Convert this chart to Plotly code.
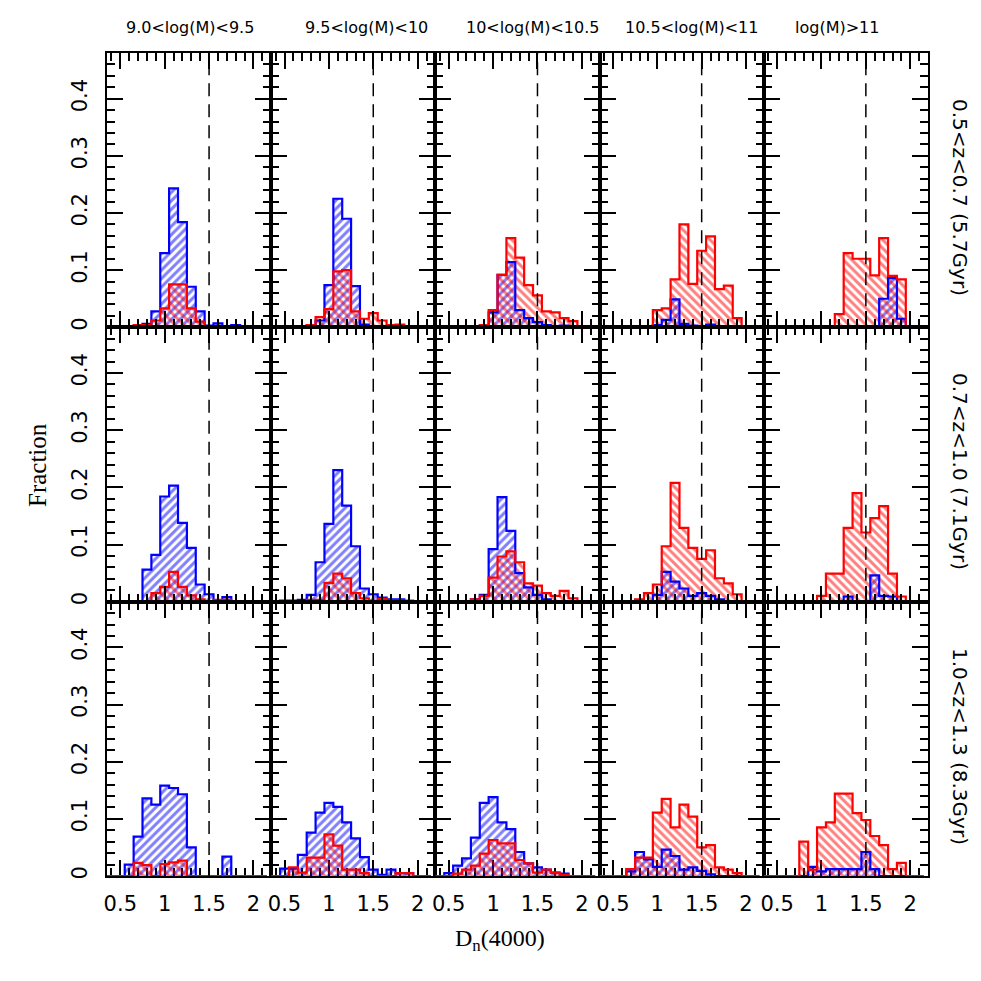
import plotly.graph_objects as go
from plotly.subplots import make_subplots

# histogram bins in Dn(4000)
BIN_CENTERS = [0.4, 0.5, 0.6, 0.7, 0.8, 0.9, 1.0, 1.1, 1.2, 1.3, 1.4, 1.5, 1.6, 1.7, 1.8, 1.9, 2.0, 2.1]
BIN_WIDTH = 0.1
DN_CUT = 1.5

MASS_LABELS = ["9.0<log(M)<9.5", "9.5<log(M)<10", "10<log(M)<10.5", "10.5<log(M)<11", "log(M)>11"]
Z_LABELS = ["0.5<z<0.7 (5.7Gyr)", "0.7<z<1.0 (7.1Gyr)", "1.0<z<1.3 (8.3Gyr)"]

X_TICKS = [0.5, 1, 1.5, 2]
X_TICK_TEXT = ["0.5", "1", "1.5", "2"]
Y_TICKS = [0, 0.1, 0.2, 0.3, 0.4]
Y_TICK_TEXT = ["0", "0.1", "0.2", "0.3", "0.4"]

# fractions per bin, one list per mass bin (columns), one block per redshift bin (rows)
BLUE_Z1 = [
    [0, 0, 0, 0, 0.006, 0.028, 0.130, 0.243, 0.184, 0.071, 0.028, 0.003, 0.007, 0, 0.004, 0, 0, 0],
    [0, 0, 0, 0, 0.003, 0.012, 0.074, 0.225, 0.190, 0.072, 0.005, 0.002, 0, 0, 0, 0, 0, 0],
    [0, 0, 0, 0, 0, 0.003, 0.026, 0.092, 0.114, 0.030, 0.016, 0.009, 0.004, 0.002, 0.003, 0, 0, 0],
    [0, 0, 0, 0, 0, 0, 0.004, 0.013, 0.049, 0.006, 0.003, 0.002, 0.005, 0, 0, 0, 0, 0],
    [0, 0, 0, 0, 0, 0, 0, 0, 0, 0, 0, 0, 0, 0.050, 0.086, 0.015, 0, 0],
]
RED_Z1 = [
    [0, 0, 0, 0.004, 0.004, 0.012, 0.033, 0.075, 0.075, 0.033, 0.010, 0, 0, 0.002, 0, 0, 0, 0],
    [0, 0, 0, 0, 0.004, 0.018, 0.032, 0.098, 0.100, 0.028, 0.015, 0.025, 0.012, 0.004, 0.005, 0, 0, 0],
    [0, 0, 0, 0, 0, 0.004, 0.030, 0.092, 0.156, 0.122, 0.074, 0.056, 0.028, 0.026, 0.016, 0.011, 0, 0],
    [0, 0, 0, 0, 0, 0, 0.030, 0.033, 0.084, 0.180, 0.076, 0.134, 0.159, 0.067, 0.073, 0.016, 0, 0],
    [0, 0, 0, 0, 0, 0, 0, 0, 0.023, 0.130, 0.120, 0.120, 0.091, 0.156, 0.090, 0.084, 0, 0],
]
BLUE_Z2 = [
    [0, 0, 0, 0, 0.056, 0.082, 0.184, 0.203, 0.138, 0.094, 0.030, 0.013, 0, 0.008, 0, 0, 0, 0],
    [0, 0.002, 0.002, 0.003, 0.012, 0.069, 0.136, 0.230, 0.168, 0.097, 0.023, 0.013, 0.007, 0.004, 0.004, 0, 0, 0],
    [0, 0, 0, 0, 0.004, 0.012, 0.092, 0.183, 0.124, 0.050, 0.025, 0.012, 0.004, 0, 0, 0, 0, 0],
    [0, 0, 0, 0, 0, 0, 0.012, 0.052, 0.035, 0.023, 0.010, 0.015, 0.010, 0.004, 0, 0, 0, 0],
    [0, 0, 0, 0, 0, 0, 0, 0, 0, 0.009, 0, 0, 0.046, 0.010, 0.009, 0, 0, 0],
]
RED_Z2 = [
    [0, 0, 0, 0, 0, 0.015, 0.026, 0.052, 0.026, 0.011, 0.004, 0, 0.003, 0.003, 0, 0, 0, 0],
    [0, 0, 0, 0, 0.003, 0.003, 0.033, 0.049, 0.041, 0.015, 0.006, 0.002, 0.005, 0.002, 0.002, 0.002, 0, 0],
    [0, 0, 0, 0, 0.004, 0.010, 0.042, 0.079, 0.088, 0.069, 0.032, 0.028, 0.015, 0.010, 0.019, 0.006, 0, 0],
    [0, 0, 0, 0, 0.004, 0.015, 0.030, 0.097, 0.208, 0.129, 0.094, 0.075, 0.090, 0.041, 0.032, 0.013, 0, 0],
    [0, 0, 0, 0, 0, 0, 0.010, 0.049, 0.049, 0.129, 0.190, 0.121, 0.146, 0.167, 0.049, 0.009, 0, 0],
]
BLUE_Z3 = [
    [0, 0, 0.020, 0.069, 0.136, 0.125, 0.158, 0.154, 0.143, 0.050, 0, 0, 0, 0.034, 0, 0, 0, 0],
    [0, 0.013, 0.013, 0.037, 0.076, 0.111, 0.128, 0.121, 0.094, 0.066, 0.033, 0.011, 0.002, 0.011, 0.005, 0.005, 0, 0],
    [0, 0.005, 0.018, 0.031, 0.067, 0.128, 0.138, 0.094, 0.082, 0.042, 0.022, 0.015, 0.011, 0.006, 0.004, 0, 0, 0],
    [0, 0, 0, 0.008, 0.042, 0.029, 0.016, 0.046, 0.035, 0.011, 0.015, 0.009, 0.003, 0, 0, 0, 0, 0],
    [0, 0, 0, 0, 0, 0.016, 0.008, 0.012, 0.012, 0.012, 0.012, 0.042, 0.012, 0, 0, 0, 0, 0],
]
RED_Z3 = [
    [0, 0, 0, 0.023, 0.019, 0, 0.021, 0.024, 0.027, 0, 0, 0, 0, 0, 0, 0, 0, 0],
    [0, 0, 0.015, 0.006, 0.032, 0.032, 0.073, 0.053, 0.011, 0.011, 0.005, 0, 0, 0, 0.005, 0.005, 0, 0],
    [0, 0, 0.004, 0.011, 0.018, 0.039, 0.063, 0.057, 0.057, 0.028, 0.022, 0.006, 0.011, 0.006, 0.002, 0, 0, 0],
    [0, 0, 0, 0.012, 0.032, 0.032, 0.111, 0.135, 0.085, 0.125, 0.104, 0.050, 0.054, 0.015, 0.011, 0.005, 0, 0],
    [0, 0, 0, 0, 0.060, 0.011, 0.085, 0.094, 0.144, 0.144, 0.110, 0.098, 0.070, 0.054, 0.012, 0.023, 0, 0],
]

BLUE = [BLUE_Z1, BLUE_Z2, BLUE_Z3]
RED = [RED_Z1, RED_Z2, RED_Z3]

# page body has an 8px margin, so the figure is a bit smaller than the window
OFF = 8
W, H = 965, 965
L, R, T, B = 99, 45, 45, 97
TICK_FONT = "DejaVu Sans"
SERIF = "Liberation Serif"


def px_x(px):
    return (px - OFF - L) / (W - L - R)


def px_y(py):
    return (OFF + H - B - py) / (H - T - B)


def add_hist(fig, vals, color, hatch, row, col):
    edges = [c - BIN_WIDTH / 2 for c in BIN_CENTERS] + [BIN_CENTERS[-1] + BIN_WIDTH / 2]
    fig.add_trace(
        go.Bar(
            x=BIN_CENTERS,
            y=vals,
            width=BIN_WIDTH,
            opacity=1,
            marker={
                "color": "rgba(0,0,0,0)",
                "line": {"width": 0},
                "pattern": {"shape": hatch, "fgcolor": color, "size": 6, "solidity": 0.5,
                            "fillmode": "overlay"},
            },
            showlegend=False,
            hoverinfo="skip",
        ),
        row=row, col=col,
    )
    fig.add_trace(
        go.Scatter(
            x=[edges[0]] + edges[:-1] + [edges[-1]],
            y=[0] + list(vals) + [0],
            mode="lines",
            line={"color": color, "width": 2.2, "shape": "hv"},
            showlegend=False,
            hoverinfo="skip",
        ),
        row=row, col=col,
    )


fig = make_subplots(rows=3, cols=5, horizontal_spacing=0, vertical_spacing=0)

for r in range(3):
    for c in range(5):
        add_hist(fig, BLUE[r][c], "#0000ff", "/", r + 1, c + 1)
        add_hist(fig, RED[r][c], "#ff0000", "\\", r + 1, c + 1)
        fig.add_vline(x=DN_CUT, row=r + 1, col=c + 1,
                      line={"color": "black", "width": 1.5, "dash": "13px,8px"})

fig.update_xaxes(
    range=[0.35, 2.2],
    showgrid=False, zeroline=False,
    showline=True, linecolor="black", linewidth=2, mirror="allticks",
    ticks="inside", ticklen=16, tickwidth=2, tickcolor="black",
    tickvals=X_TICKS, ticktext=X_TICK_TEXT,
    minor={"ticks": "inside", "ticklen": 8, "tickwidth": 1.5, "tickcolor": "black", "dtick": 0.1},
    showticklabels=False,
    tickfont={"family": TICK_FONT, "size": 21, "color": "black"},
)
fig.update_xaxes(showticklabels=True, ticklabelstandoff=8, layer="below traces", row=3)

fig.update_yaxes(
    range=[0, 0.48],
    showgrid=False, zeroline=False,
    showline=True, linecolor="black", linewidth=2, mirror="allticks",
    ticks="inside", ticklen=16, tickwidth=2, tickcolor="black",
    tickvals=Y_TICKS, ticktext=Y_TICK_TEXT,
    minor={"ticks": "inside", "ticklen": 8, "tickwidth": 1.5, "tickcolor": "black", "dtick": 0.02},
    showticklabels=False,
    tickangle=-90,
    tickfont={"family": TICK_FONT, "size": 21, "color": "black"},
)
fig.update_yaxes(showticklabels=True, ticklabelstandoff=10, col=1)

annotations = []
title_x = [190, 366, 532, 691, 837]
for label, px in zip(MASS_LABELS, title_x):
    annotations.append(dict(
        text=label, x=px_x(px), y=px_y(27), xref="paper", yref="paper",
        xanchor="center", yanchor="middle",
        showarrow=False, font={"family": TICK_FONT, "size": 16, "color": "black"},
    ))
row_y = [197, 471, 746]
for label, py in zip(Z_LABELS, row_y):
    annotations.append(dict(
        text=label, x=px_x(960), y=px_y(py), xref="paper", yref="paper",
        xanchor="center", yanchor="middle",
        showarrow=False, textangle=90, font={"family": TICK_FONT, "size": 20, "color": "black"},
    ))
annotations.append(dict(
    text="Fraction", x=px_x(37), y=px_y(465), xref="paper", yref="paper",
    xanchor="center", yanchor="middle",
    showarrow=False, textangle=-90, font={"family": SERIF, "size": 25, "color": "black"},
))
annotations.append(dict(
    text="D<sub>n</sub>(4000)", x=px_x(500), y=px_y(940), xref="paper", yref="paper",
    xanchor="center", yanchor="middle",
    showarrow=False, font={"family": SERIF, "size": 24, "color": "black"},
))

fig.update_layout(
    width=W, height=H,
    margin={"l": L, "r": R, "t": T, "b": B},
    barmode="overlay",
    bargap=0,
    plot_bgcolor="white",
    paper_bgcolor="white",
    annotations=annotations,
)

fig.write_html("out.html")
